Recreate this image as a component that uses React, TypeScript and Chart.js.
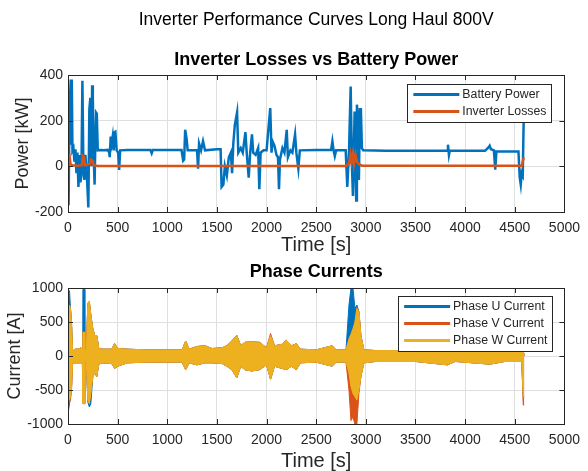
import React, { useEffect, useRef } from "react";
import { Chart, registerables } from "chart.js";

Chart.register(...registerables);

const FONT = '"Liberation Sans", Arial, Helvetica, sans-serif';
const AXIS_COLOR = "#262626";
const GRID_COLOR = "#dfdfdf";
const BLUE = "#0072BD";
const ORANGE = "#D95319";
const YELLOW = "#EDB120";

const mainTitle = "Inverter Performance Curves Long Haul 800V";
const powerTitle = "Inverter Losses vs Battery Power";
const currentTitle = "Phase Currents";
const timeLabel = "Time [s]";
const powerLabel = "Power [kW]";
const currentLabel = "Current [A]";
const powerSeriesLabels = ["Battery Power", "Inverter Losses"];
const phaseLabels = ["Phase U Current", "Phase V Current", "Phase W Current"];

const timeTicks = [0, 500, 1000, 1500, 2000, 2500, 3000, 3500, 4000, 4500, 5000];
const powerTicks = [-200, 0, 200, 400];
const currentTicks = [-1000, -500, 0, 500, 1000];

// Battery power [kW] vs time [s]
const batteryTime = [
  0, 4, 8, 14, 20, 28, 33, 38, 45, 55, 65, 75, 85, 95, 105, 115, 125, 135, 145, 150,
  155, 165, 175, 190, 205, 210, 215, 225, 235, 243, 250, 258, 268, 275, 283, 290, 300, 330, 360, 400,
  415, 420, 430, 440, 450, 460, 470, 477, 490, 505, 515, 525, 600, 700, 830, 843, 855, 1000, 1143, 1160,
  1170, 1180, 1195, 1205, 1250, 1300, 1310, 1320, 1340, 1360, 1380, 1500, 1537, 1547, 1565, 1580, 1600, 1620, 1640, 1653,
  1665, 1680, 1703, 1715, 1740, 1760, 1787, 1800, 1820, 1835, 1853, 1865, 1890, 1915, 1927, 1940, 1970, 2000, 2037, 2050,
  2060, 2080, 2100, 2115, 2125, 2135, 2160, 2180, 2203, 2215, 2240, 2260, 2287, 2300, 2320, 2335, 2500, 2650, 2663, 2675,
  2687, 2700, 2797, 2813, 2830, 2847, 2860, 2870, 2880, 2887, 2895, 2903, 2910, 2920, 2930, 2940, 2950, 2960, 2973, 3200,
  3500, 3820, 3827, 3837, 3845, 4200, 4240, 4247, 4260, 4290, 4303, 4315, 4537, 4550, 4560, 4570, 4580, 4590,
];
const batteryPower = [
  250, -170, -170, 200, 300, 380, 100, 380, 70, 80, 20, 75, -30, 60, -90, 50, -70, -40, 375, 375,
  0, -60, 50, -40, -180, -180, 250, 300, 0, 355, 300, 50, -80, 100, 235, 230, 70, 72, 70, 72,
  60, 40, 130, 100, 130, 70, 150, 152, 70, 60, -16, 70, 72, 71, 72, 57, 72, 72, 72, 25,
  30, 160, 120, 70, 70, 70, -10, 100, 70, 110, 70, 75, 75, -90, -80, 0, -40, 40, 60, -30,
  100, 180, 236, 60, 80, 60, 150, 60, -50, 60, 140, 60, 50, 80, -100, 60, 70, 70, 255, 60,
  110, 90, 50, 40, -100, 30, 80, 60, 160, 40, 70, 60, 140, 60, -10, 70, 72, 72, 110, 70,
  45, 70, 70, -90, 60, 350, 0, -130, 100, 240, 0, -150, 270, 200, -60, 250, 250, 80, 70, 68,
  68, 68, 95, 50, 68, 68, 85, 90, 75, 70, -15, 65, 65, -50, -80, -30, -40, 210,
];

// Inverter losses [kW] vs time [s]
const lossTime = [0, 5, 15, 25, 40, 100, 140, 150, 160, 170, 220, 230, 245, 260, 300, 2800, 2830, 2845, 2855, 2870, 2880, 2895, 2910, 2930, 2960, 4570, 4575, 4590];
const lossPower = [5, 40, 45, 10, 5, 3, 5, 45, 40, 5, 10, 30, 25, 5, 2, 2, 10, 50, 20, 55, 10, 50, 20, 10, 3, 3, 10, 40];

// Phase current envelopes [A] (upper / lower extent of the oscillating signal)
const phaseTime = [
  0, 5, 15, 25, 35, 45, 55, 70, 100, 130,
  145, 150, 165, 170, 185, 200, 215, 230, 250, 270,
  290, 310, 350, 440, 470, 500, 600, 800, 1000, 1150,
  1185, 1220, 1300, 1380, 1450, 1550, 1600, 1650, 1700, 1740,
  1780, 1850, 1930, 2000, 2040, 2080, 2150, 2200, 2250, 2300,
  2340, 2500, 2660, 2700, 2800, 2830, 2850, 2870, 2890, 2910,
  2930, 2950, 2980, 3100, 3500, 3820, 3900, 4250, 4400, 4570,
  4585, 4595,
];
const phaseUUpper = [
  950, 960, 960, 700, 500, 100, 80, 100, 100, 120,
  100, 980, 980, 60, 100, 780, 800, 600, 400, 300,
  300, 110, 100, 100, 180, 110, 100, 90, 90, 90,
  220, 100, 140, 150, 110, 120, 150, 220, 300, 150,
  200, 210, 200, 120, 300, 150, 170, 230, 150, 180,
  100, 90, 150, 90, 90, 750, 1000, 1000, 700, 750,
  650, 300, 90, 80, 80, 130, 80, 110, 80, 80,
  80, 0,
];
const phaseULower = [
  -850, -850, -700, -600, -500, -120, -100, -100, -100, -100,
  -100, -700, -700, -60, -100, -680, -750, -700, -300, -250,
  -300, -120, -100, -110, -180, -150, -100, -90, -90, -90,
  -200, -100, -130, -100, -100, -110, -150, -200, -320, -150,
  -200, -220, -200, -130, -340, -150, -180, -200, -150, -200,
  -100, -90, -150, -90, -90, -250, -450, -550, -600, -650,
  -500, -300, -100, -80, -80, -130, -80, -120, -80, -80,
  -600, -600,
];
const phaseVUpper = [
  600, 650, 750, 700, 520, 100, 80, 100, 100, 120,
  100, 350, 350, 60, 100, 780, 800, 600, 400, 300,
  300, 110, 100, 100, 180, 110, 100, 90, 90, 90,
  220, 100, 140, 150, 110, 120, 150, 220, 300, 150,
  200, 210, 200, 120, 330, 150, 170, 230, 150, 180,
  100, 90, 150, 90, 90, 250, 320, 400, 500, 720,
  650, 300, 90, 80, 80, 130, 80, 110, 80, 80,
  80, 0,
];
const phaseVLower = [
  -550, -680, -680, -650, -500, -120, -100, -100, -100, -100,
  -100, -700, -700, -60, -100, -650, -700, -550, -300, -250,
  -300, -120, -100, -110, -180, -150, -100, -90, -90, -90,
  -200, -100, -130, -100, -100, -110, -150, -200, -320, -150,
  -200, -220, -200, -130, -340, -150, -180, -200, -150, -200,
  -100, -90, -150, -90, -90, -500, -950, -900, -1000, -1000,
  -550, -300, -100, -80, -80, -130, -80, -120, -80, -80,
  -720, -720,
];
const phaseWUpper = [
  600, 650, 750, 700, 500, 100, 80, 100, 100, 120,
  100, 350, 350, 60, 100, 780, 800, 600, 400, 300,
  300, 110, 100, 100, 180, 110, 100, 90, 90, 90,
  220, 100, 140, 150, 110, 120, 150, 220, 300, 150,
  200, 210, 200, 120, 300, 150, 170, 230, 150, 180,
  100, 90, 150, 90, 90, 250, 320, 400, 500, 700,
  650, 300, 90, 80, 80, 130, 80, 110, 80, 80,
  80, 0,
];
const phaseWLower = [
  -550, -650, -650, -600, -500, -120, -100, -100, -100, -100,
  -100, -700, -700, -60, -100, -650, -700, -550, -300, -250,
  -300, -120, -100, -110, -180, -150, -100, -90, -90, -90,
  -200, -100, -130, -100, -100, -110, -150, -200, -320, -150,
  -200, -220, -200, -130, -340, -150, -180, -200, -150, -200,
  -100, -90, -150, -90, -90, -250, -450, -550, -600, -650,
  -500, -300, -100, -80, -80, -130, -80, -120, -80, -80,
  -600, -600,
];

const pts = (xs: number[], ys: number[]) => xs.map((x, i) => ({ x, y: ys[i] }));

const frameTicksPlugin = {
  id: "frameTicks",
  afterDatasetsDraw(chart: any) {
    const { ctx, chartArea: a, scales } = chart;
    const len = 5;
    ctx.save();
    ctx.strokeStyle = AXIS_COLOR;
    ctx.lineWidth = 1;
    ctx.beginPath();
    scales.x.ticks.forEach((t: any) => {
      const px = Math.round(scales.x.getPixelForValue(t.value)) + 0.5;
      ctx.moveTo(px, a.bottom);
      ctx.lineTo(px, a.bottom - len);
      ctx.moveTo(px, a.top);
      ctx.lineTo(px, a.top + len);
    });
    scales.y.ticks.forEach((t: any) => {
      const py = Math.round(scales.y.getPixelForValue(t.value)) + 0.5;
      ctx.moveTo(a.left, py);
      ctx.lineTo(a.left + len, py);
      ctx.moveTo(a.right, py);
      ctx.lineTo(a.right - len, py);
    });
    ctx.stroke();
    ctx.strokeRect(Math.round(a.left) + 0.5, Math.round(a.top) + 0.5, Math.round(a.right - a.left), Math.round(a.bottom - a.top));
    ctx.restore();
  },
};

const boxLegendPlugin = {
  id: "boxLegend",
  afterDraw(chart: any, _args: any, opts: any) {
    const { ctx, chartArea: a } = chart;
    const items = opts.items as { label: string; color: string }[];
    ctx.save();
    ctx.font = `${opts.fontSize}px ${FONT}`;
    const tw = Math.max(...items.map((i) => ctx.measureText(i.label).width));
    const w = 6 + 46 + 3 + tw + 5;
    const h = 21 + 17 * (items.length - 1);
    const right = a.right - opts.offsetRight;
    const top = a.top + opts.offsetTop;
    const left = right - w;
    ctx.fillStyle = "#ffffff";
    ctx.fillRect(left, top, w, h);
    ctx.strokeStyle = AXIS_COLOR;
    ctx.lineWidth = 1;
    ctx.strokeRect(Math.round(left) + 0.5, Math.round(top) + 0.5, Math.round(w), Math.round(h));
    items.forEach((it, i) => {
      const y = top + 10.5 + 17 * i;
      ctx.strokeStyle = it.color;
      ctx.lineWidth = 3;
      ctx.beginPath();
      ctx.moveTo(left + 6, y);
      ctx.lineTo(left + 52, y);
      ctx.stroke();
      ctx.fillStyle = AXIS_COLOR;
      ctx.textBaseline = "middle";
      ctx.textAlign = "left";
      ctx.fillText(it.label, left + 55, y + 0.5);
    });
    ctx.restore();
  },
};

const ticksFrom = (vals: number[]) => (scale: any) => {
  scale.ticks = vals.map((v) => ({ value: v }));
};

function xScale(height: number, titlePadBottom: number) {
  return {
    type: "linear",
    min: 0,
    max: 5000,
    afterBuildTicks: ticksFrom(timeTicks),
    afterFit: (s: any) => {
      s.height = height;
    },
    grid: { color: GRID_COLOR, drawTicks: false, lineWidth: 1 },
    border: { display: false },
    ticks: {
      padding: 8,
      color: AXIS_COLOR,
      font: { family: FONT, size: 14 },
      maxRotation: 0,
      autoSkip: false,
      callback: (v: any) => String(v),
    },
    title: {
      display: true,
      text: timeLabel,
      color: AXIS_COLOR,
      font: { family: FONT, size: 20, lineHeight: 1 },
      padding: { top: 0, bottom: titlePadBottom },
    },
  };
}

function yScale(min: number, max: number, ticks: number[], label: string, titlePadTop: number) {
  return {
    type: "linear",
    min,
    max,
    afterBuildTicks: ticksFrom(ticks),
    afterFit: (s: any) => {
      s.width = 68;
    },
    grid: { color: GRID_COLOR, drawTicks: false, lineWidth: 1 },
    border: { display: false },
    ticks: {
      padding: 5,
      color: AXIS_COLOR,
      font: { family: FONT, size: 14 },
      autoSkip: false,
      callback: (v: any) => String(v),
    },
    title: {
      display: true,
      text: label,
      color: AXIS_COLOR,
      font: { family: FONT, size: 18, lineHeight: 1 },
      padding: { top: titlePadTop, bottom: 0 },
    },
  };
}

function buildPowerChart(): any {
  return {
    type: "line",
    data: {
      datasets: [
        {
          label: powerSeriesLabels[0],
          data: pts(batteryTime, batteryPower),
          borderColor: BLUE,
          borderWidth: 2.5,
          pointRadius: 0,
          tension: 0,
          fill: false,
          order: 2,
        },
        {
          label: powerSeriesLabels[1],
          data: pts(lossTime, lossPower),
          borderColor: ORANGE,
          borderWidth: 2.5,
          pointRadius: 0,
          tension: 0,
          fill: false,
          order: 1,
        },
      ],
    },
    options: {
      animation: false,
      responsive: false,
      events: [],
      layout: { padding: { left: 0, right: 21, top: 0, bottom: 0 } },
      plugins: {
        legend: { display: false },
        tooltip: { enabled: false },
        title: {
          display: true,
          fullSize: false,
          text: mainTitle,
          color: "#000000",
          font: { family: FONT, size: 17.5, weight: "normal", lineHeight: 1 },
          padding: { top: 11.25, bottom: 22.25 },
        },
        subtitle: {
          display: true,
          fullSize: false,
          text: powerTitle,
          color: "#000000",
          font: { family: FONT, size: 18, weight: "bold", lineHeight: 1 },
          padding: { top: 0, bottom: 6 },
        },
        boxLegend: {
          fontSize: 12.3,
          offsetRight: 13,
          offsetTop: 9,
          items: [
            { label: powerSeriesLabels[0], color: BLUE },
            { label: powerSeriesLabels[1], color: ORANGE },
          ],
        },
      },
      scales: {
        x: xScale(46, 3),
        y: yScale(-200, 400, powerTicks, powerLabel, 14.5),
      },
    },
    plugins: [frameTicksPlugin, boxLegendPlugin],
  };
}

function buildCurrentChart(): any {
  const colors = [BLUE, ORANGE, YELLOW];
  const uppers = [phaseUUpper, phaseVUpper, phaseWUpper];
  const lowers = [phaseULower, phaseVLower, phaseWLower];
  const datasets: any[] = [];
  phaseLabels.forEach((label, k) => {
    const upperIndex = datasets.length;
    datasets.push({
      label,
      data: pts(phaseTime, uppers[k]),
      borderColor: colors[k],
      backgroundColor: colors[k],
      borderWidth: 1,
      pointRadius: 0,
      tension: 0,
      fill: false,
      order: 3 - k,
    });
    datasets.push({
      label: label + " (lower)",
      data: pts(phaseTime, lowers[k]),
      borderColor: colors[k],
      backgroundColor: colors[k],
      borderWidth: 1,
      pointRadius: 0,
      tension: 0,
      fill: upperIndex,
      order: 3 - k,
    });
  });
  return {
    type: "line",
    data: { datasets },
    options: {
      animation: false,
      responsive: false,
      events: [],
      layout: { padding: { left: 0, right: 21, top: 0, bottom: 0 } },
      plugins: {
        legend: { display: false },
        tooltip: { enabled: false },
        title: {
          display: true,
          fullSize: false,
          text: currentTitle,
          color: "#000000",
          font: { family: FONT, size: 18, weight: "bold", lineHeight: 1 },
          padding: { top: 5, bottom: 7 },
        },
        boxLegend: {
          fontSize: 12.3,
          offsetRight: 12,
          offsetTop: 8,
          items: phaseLabels.map((label, k) => ({ label, color: colors[k] })),
        },
      },
      scales: {
        x: xScale(47, 0),
        y: yScale(-1000, 1000, currentTicks, currentLabel, 6),
      },
    },
    plugins: [frameTicksPlugin, boxLegendPlugin],
  };
}

function ChartCanvas(props: { width: number; height: number; top: number; build: () => any }) {
  const ref = useRef<HTMLCanvasElement | null>(null);
  useEffect(() => {
    if (!ref.current) return;
    const chart = new Chart(ref.current, props.build());
    return () => chart.destroy();
  }, []);
  return (
    <canvas
      ref={ref}
      width={props.width}
      height={props.height}
      style={{ position: "absolute", left: 0, top: props.top, width: props.width, height: props.height, display: "block" }}
    />
  );
}

export default function App() {
  return (
    <div style={{ position: "absolute", left: 0, top: 0, width: 588, height: 471, background: "#ffffff", overflow: "hidden" }}>
      <ChartCanvas width={588} height={258} top={0} build={buildPowerChart} />
      <ChartCanvas width={588} height={213} top={258} build={buildCurrentChart} />
    </div>
  );
}
